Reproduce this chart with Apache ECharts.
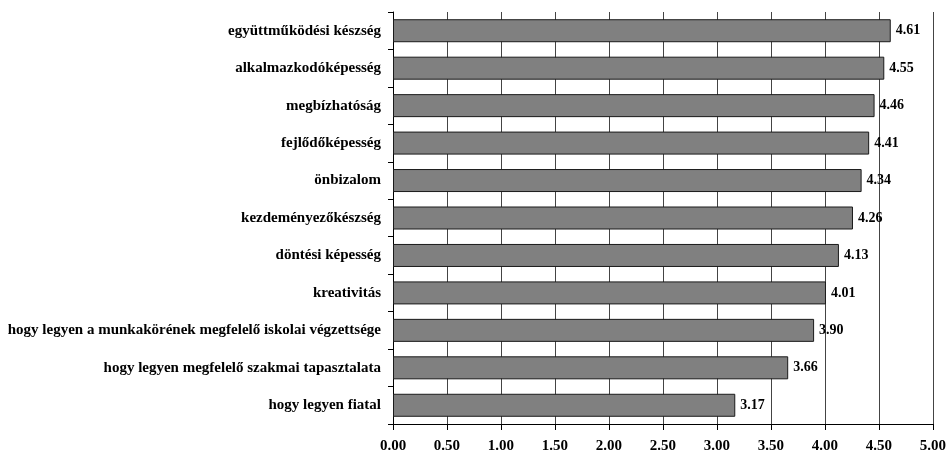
<!DOCTYPE html>
<html><head><meta charset="utf-8">
<script src="https://cdn.jsdelivr.net/npm/echarts@6/dist/echarts.min.js"></script>
<style>html,body{margin:0;padding:0;background:#fff;}#c{width:949px;height:454px;}</style>
</head><body><div id="c"></div>
<script>
const categories = [
  "együttműködési készség",
  "alkalmazkodóképesség",
  "megbízhatóság",
  "fejlődőképesség",
  "önbizalom",
  "kezdeményezőkészség",
  "döntési képesség",
  "kreativitás",
  "hogy legyen a munkakörének megfelelő iskolai végzettsége",
  "hogy legyen megfelelő szakmai tapasztalata",
  "hogy legyen fiatal"
];
const values = [4.61, 4.55, 4.46, 4.41, 4.34, 4.26, 4.13, 4.01, 3.90, 3.66, 3.17];
const xMin = 0, xMax = 5, xStep = 0.5;

const font = '"Liberation Serif", "Times New Roman", serif';
const chart = echarts.init(document.getElementById('c'), null, {renderer: 'canvas'});
chart.setOption({
  animation: false,
  grid: {left: 393, right: 14, top: 12, bottom: 30, containLabel: false},
  xAxis: {
    type: 'value', min: xMin, max: xMax, interval: xStep,
    axisLine: {show: true, lineStyle: {color: '#000', width: 1}},
    axisTick: {show: true, length: 6, lineStyle: {color: '#000'}},
    splitLine: {show: true, lineStyle: {color: '#444', width: 1}},
    axisLabel: {formatter: v => v.toFixed(2), color: '#000', fontFamily: font, fontWeight: 'bold', fontSize: 15, margin: 15}
  },
  yAxis: {
    type: 'category', data: categories, inverse: true,
    axisLine: {show: true, lineStyle: {color: '#000', width: 1}},
    axisTick: {show: true, length: 5, lineStyle: {color: '#000'}},
    axisLabel: {color: '#000', fontFamily: font, fontWeight: 'bold', fontSize: 15, margin: 12}
  },
  series: [{
    type: 'bar', data: values, barWidth: 23,
    itemStyle: {color: '#808080', borderColor: '#1a1a1a', borderWidth: 1},
    label: {show: true, position: 'right', distance: 5, formatter: p => p.value.toFixed(2),
      color: '#000', fontFamily: font, fontWeight: 'bold', fontSize: 14}
  }]
});
</script></body></html>
